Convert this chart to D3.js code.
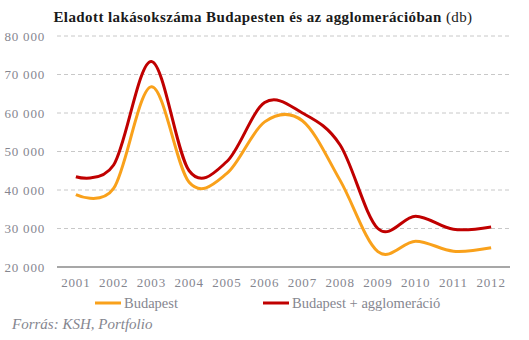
<!DOCTYPE html>
<html>
<head>
<meta charset="utf-8">
<script src="https://cdn.jsdelivr.net/npm/d3@7"></script>
<style>
  body { margin: 0; background: #fff; }
  text { font-family: "Liberation Serif", serif; }
</style>
</head>
<body>
<script>
const width = 529
const height = 340

const years = ["2001", "2002", "2003", "2004", "2005", "2006", "2007", "2008", "2009", "2010", "2011", "2012"]
const budapest = [38800, 40400, 66800, 42000, 44300, 57700, 58000, 42500, 24000, 26700, 24100, 25000]
const agglo = [43450, 46500, 73400, 45000, 47400, 62700, 60000, 51700, 30000, 33200, 29800, 30400]
const yTicks = [20000, 30000, 40000, 50000, 60000, 70000, 80000]

const series = [
    { name: "Budapest", values: budapest, color: "#f9a11b" },
    { name: "Budapest + agglomeráció", values: agglo, color: "#c00000" },
]

const x = d3.scaleBand().domain(years).range([57, 510])
const y = d3.scaleLinear().domain([20000, 80000]).range([267, 36])

const fmt = d3.formatLocale({ thousands: " ", grouping: [3], decimal: ",", currency: ["", ""] }).format(",d")

const svg = d3
    .select("body")
    .append("svg")
    .attr("width", width)
    .attr("height", height)

// title
const title = svg
    .append("text")
    .attr("x", 263)
    .attr("y", 22)
    .attr("text-anchor", "middle")
    .style("font-size", "15px")
    .style("letter-spacing", "0.4px")
    .attr("fill", "#1a1a1a")
title.append("tspan").attr("font-weight", "bold").text("Eladott lakásokszáma Budapesten és az agglomerációban")
title.append("tspan").text(" (db)")

// gridlines
svg.append("g")
    .selectAll("line")
    .data(yTicks.filter((d) => d > 20000))
    .join("line")
    .attr("x1", 57)
    .attr("x2", 510)
    .attr("y1", (d) => y(d))
    .attr("y2", (d) => y(d))
    .attr("stroke", "#c8c8c8")
    .attr("stroke-dasharray", "4,3")

// y axis labels
svg.append("g")
    .selectAll("text")
    .data(yTicks)
    .join("text")
    .attr("x", 45)
    .attr("y", (d) => y(d))
    .attr("dy", "0.35em")
    .attr("text-anchor", "end")
    .attr("fill", "#85868f")
    .style("font-size", "13px")
    .style("letter-spacing", "0.8px")
    .text((d) => fmt(d))

// x axis line
svg.append("line")
    .attr("x1", 57)
    .attr("x2", 510)
    .attr("y1", y(20000))
    .attr("y2", y(20000))
    .attr("stroke", "#8a8a8a")
    .attr("stroke-width", 1.5)

// x labels
svg.append("g")
    .selectAll("text")
    .data(years)
    .join("text")
    .attr("x", (d) => x(d) + x.bandwidth() / 2)
    .attr("y", 287)
    .attr("text-anchor", "middle")
    .attr("fill", "#85868f")
    .style("font-size", "13px")
    .style("letter-spacing", "0.8px")
    .text((d) => d)

const line = d3
    .line()
    .x((d, i) => x(years[i]) + x.bandwidth() / 2)
    .y((d) => y(d))
    .curve(d3.curveCardinal.tension(0))

svg.append("g")
    .selectAll("path")
    .data(series)
    .join("path")
    .attr("d", (d) => line(d.values))
    .attr("fill", "none")
    .attr("stroke", (d) => d.color)
    .attr("stroke-width", 3)

// legend
const legendX = [95, 263]
const legend = svg
    .append("g")
    .selectAll("g")
    .data(series)
    .join("g")
    .attr("transform", (d, i) => `translate(${legendX[i]}, 303)`)
legend.append("line")
    .attr("x1", 0)
    .attr("x2", 26)
    .attr("stroke", (d) => d.color)
    .attr("stroke-width", 3)
legend.append("text")
    .attr("x", 29)
    .attr("dy", "0.35em")
    .attr("fill", "#85868f")
    .style("font-size", "14.5px")
    .text((d) => d.name)

// source
svg.append("text")
    .attr("x", 12)
    .attr("y", 329)
    .attr("fill", "#85868f")
    .style("font-size", "15px")
    .style("font-style", "italic")
    .text("Forrás: KSH, Portfolio")
</script>
</body>
</html>
